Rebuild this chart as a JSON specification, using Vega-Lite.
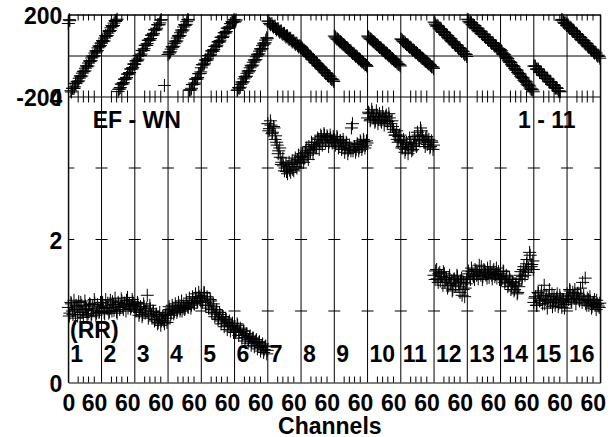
{
"$schema": "https://vega.github.io/schema/vega-lite/v6.json",
"width": 532, "height": 368,
"autosize": "none",
"padding": {"left": 68.3, "top": 14.5, "right": 13.7, "bottom": 54.5},
"background": "white",
"config": {"view": {"stroke": "black", "strokeWidth": 1}, "font": "Liberation Sans", "axisX": {"labelOverlap": false}},
"datasets": {
"vis": [
{"x":0,"p":156,"a":1.05},{"x":3,"p":170,"a":0.97},{"x":6,"p":-178,"a":1.10},{"x":9,"p":-160,"a":0.95},{"x":12,"p":-153,"a":1.02},{"x":15,"p":-135,"a":1.08},{"x":18,"p":-128,"a":0.93},{"x":21,"p":-111,"a":1.04},{"x":24,"p":-104,"a":1.12},{"x":27,"p":-86,"a":0.98},{"x":30,"p":-79,"a":1.00},{"x":33,"p":-62,"a":1.07},{"x":36,"p":-55,"a":0.94},{"x":39,"p":-37,"a":1.03},{"x":42,"p":-30,"a":1.09},{"x":45,"p":-12,"a":0.96},{"x":48,"p":-6,"a":1.01},{"x":51,"p":12,"a":1.11},{"x":54,"p":18,"a":0.97},{"x":57,"p":37,"a":1.04},{"x":60,"p":43,"a":0.99},{"x":63,"p":60,"a":1.06},
{"x":2,"p":175,"a":0.93},{"x":5,"p":-172,"a":1.12},{"x":8,"p":-160,"a":1.00},{"x":11,"p":-161,"a":1.15},{"x":14,"p":-137,"a":0.90},{"x":17,"p":-126,"a":1.06},{"x":20,"p":-124,"a":1.13},{"x":23,"p":-99,"a":0.95},{"x":26,"p":-100,"a":1.08},{"x":29,"p":-77,"a":0.91},{"x":32,"p":-75,"a":1.14},{"x":35,"p":-50,"a":1.02},{"x":38,"p":-51,"a":0.96},{"x":41,"p":-26,"a":1.10},{"x":44,"p":-25,"a":0.92},{"x":47,"p":-2,"a":1.07},{"x":50,"p":-1,"a":1.16},{"x":53,"p":23,"a":0.94},{"x":56,"p":24,"a":1.09},{"x":59,"p":47,"a":0.98},{"x":62,"p":48,"a":1.12},
{"x":64,"p":61,"a":1.00},{"x":67,"p":68,"a":1.08},{"x":70,"p":85,"a":0.96},{"x":73,"p":93,"a":1.05},{"x":76,"p":109,"a":1.11},{"x":79,"p":117,"a":0.99},{"x":82,"p":135,"a":1.04},{"x":85,"p":142,"a":1.13},{"x":88,"p":158,"a":1.01},{"x":91,"p":166,"a":1.07},{"x":94,"p":177,"a":0.97},{"x":97,"p":-165,"a":1.10},{"x":100,"p":-156,"a":1.05},{"x":103,"p":-139,"a":1.14},{"x":106,"p":-132,"a":1.02},{"x":109,"p":-115,"a":1.08},{"x":112,"p":-107,"a":1.15},{"x":115,"p":-90,"a":1.04},{"x":118,"p":-83,"a":1.10},{"x":121,"p":-66,"a":1.06},{"x":124,"p":-58,"a":1.13},{"x":127,"p":-41,"a":1.08},
{"x":66,"p":73,"a":1.12},{"x":69,"p":71,"a":0.98},{"x":72,"p":98,"a":1.16},{"x":75,"p":97,"a":1.03},{"x":78,"p":121,"a":0.97},{"x":81,"p":122,"a":1.15},{"x":84,"p":146,"a":1.00},{"x":87,"p":146,"a":1.09},{"x":90,"p":171,"a":1.18},{"x":93,"p":172,"a":0.99},{"x":96,"p":-176,"a":1.12},{"x":99,"p":-163,"a":1.02},{"x":102,"p":-140,"a":1.17},{"x":105,"p":-139,"a":1.06},{"x":108,"p":-116,"a":1.11},{"x":111,"p":-114,"a":1.00},{"x":114,"p":-91,"a":1.19},{"x":117,"p":-90,"a":1.09},{"x":120,"p":-66,"a":1.03},{"x":123,"p":-65,"a":1.16},{"x":126,"p":-42,"a":1.10},
{"x":128,"p":-43,"a":1.08},{"x":131,"p":-25,"a":1.02},{"x":134,"p":-18,"a":1.10},{"x":137,"p":0,"a":0.98},{"x":140,"p":7,"a":1.04},{"x":143,"p":25,"a":0.95},{"x":146,"p":33,"a":1.06},{"x":149,"p":50,"a":1.00},{"x":152,"p":58,"a":1.22},{"x":155,"p":75,"a":0.96},{"x":158,"p":83,"a":1.03},{"x":161,"p":100,"a":0.92},{"x":164,"p":108,"a":0.99},{"x":167,"p":126,"a":0.88},{"x":170,"p":133,"a":0.95},{"x":173,"p":150,"a":0.84},{"x":176,"p":159,"a":0.98},{"x":179,"p":175,"a":0.86},{"x":182,"p":null,"a":0.93},{"x":185,"p":-146,"a":0.82},{"x":188,"p":null,"a":0.96},{"x":191,"p":null,"a":0.90},
{"x":130,"p":-27,"a":1.00},{"x":133,"p":-26,"a":1.12},{"x":136,"p":0,"a":0.94},{"x":139,"p":-1,"a":1.06},{"x":142,"p":24,"a":0.92},{"x":145,"p":24,"a":1.10},{"x":148,"p":50,"a":0.97},{"x":151,"p":49,"a":1.04},{"x":154,"p":74,"a":0.90},{"x":157,"p":75,"a":1.08},{"x":160,"p":99,"a":0.94},{"x":163,"p":100,"a":1.00},{"x":166,"p":125,"a":0.86},{"x":169,"p":125,"a":0.96},{"x":172,"p":150,"a":0.82},{"x":175,"p":150,"a":0.92},{"x":178,"p":172,"a":0.80},{"x":181,"p":null,"a":0.90},{"x":184,"p":null,"a":0.86},{"x":187,"p":null,"a":0.94},{"x":190,"p":null,"a":0.84},
{"x":192,"p":5,"a":0.95},{"x":195,"p":12,"a":1.02},{"x":198,"p":31,"a":0.97},{"x":201,"p":40,"a":1.04},{"x":204,"p":58,"a":0.99},{"x":207,"p":66,"a":1.06},{"x":210,"p":85,"a":1.01},{"x":213,"p":93,"a":1.08},{"x":216,"p":111,"a":1.03},{"x":219,"p":119,"a":1.00},{"x":222,"p":139,"a":1.07},{"x":225,"p":146,"a":1.04},{"x":228,"p":165,"a":1.10},{"x":231,"p":173,"a":1.05},{"x":234,"p":-168,"a":1.12},{"x":237,"p":-160,"a":1.08},{"x":240,"p":-141,"a":1.15},{"x":243,"p":-134,"a":1.10},{"x":246,"p":-114,"a":1.18},{"x":249,"p":-107,"a":1.13},{"x":252,"p":-88,"a":1.20},{"x":255,"p":-80,"a":1.14},
{"x":194,"p":17,"a":1.06},{"x":197,"p":18,"a":0.94},{"x":200,"p":44,"a":1.08},{"x":203,"p":45,"a":0.96},{"x":206,"p":70,"a":1.10},{"x":209,"p":71,"a":0.98},{"x":212,"p":97,"a":1.12},{"x":215,"p":98,"a":1.00},{"x":218,"p":124,"a":1.14},{"x":221,"p":125,"a":1.04},{"x":224,"p":151,"a":1.02},{"x":227,"p":152,"a":1.15},{"x":230,"p":176,"a":1.06},{"x":233,"p":-169,"a":1.18},{"x":236,"p":-168,"a":1.04},{"x":239,"p":-142,"a":1.20},{"x":242,"p":-141,"a":1.10},{"x":245,"p":-116,"a":1.24},{"x":248,"p":-115,"a":1.12},{"x":251,"p":-89,"a":1.26},{"x":254,"p":-88,"a":1.18},
{"x":256,"p":-60,"a":1.22},{"x":259,"p":-44,"a":1.15},{"x":262,"p":-38,"a":1.25},{"x":265,"p":-22,"a":1.12},{"x":268,"p":-16,"a":1.18},{"x":271,"p":0,"a":1.08},{"x":274,"p":6,"a":1.14},{"x":277,"p":23,"a":1.02},{"x":280,"p":29,"a":1.06},{"x":283,"p":45,"a":0.96},{"x":286,"p":50,"a":1.00},{"x":289,"p":67,"a":0.90},{"x":292,"p":72,"a":0.95},{"x":295,"p":89,"a":0.86},{"x":298,"p":94,"a":0.92},{"x":301,"p":111,"a":0.83},{"x":304,"p":117,"a":0.88},{"x":307,"p":134,"a":0.80},{"x":310,"p":139,"a":0.86},{"x":313,"p":156,"a":0.78},{"x":316,"p":161,"a":0.83},{"x":319,"p":176,"a":0.76},
{"x":258,"p":-45,"a":1.12},{"x":261,"p":-46,"a":1.26},{"x":264,"p":-22,"a":1.08},{"x":267,"p":-23,"a":1.20},{"x":270,"p":0,"a":1.04},{"x":273,"p":-1,"a":1.16},{"x":276,"p":22,"a":0.98},{"x":279,"p":21,"a":1.10},{"x":282,"p":44,"a":0.92},{"x":285,"p":43,"a":1.02},{"x":288,"p":66,"a":0.88},{"x":291,"p":66,"a":0.98},{"x":294,"p":89,"a":0.82},{"x":297,"p":88,"a":0.92},{"x":300,"p":111,"a":0.78},{"x":303,"p":110,"a":0.90},{"x":306,"p":133,"a":0.74},{"x":309,"p":132,"a":0.84},{"x":312,"p":155,"a":0.72},{"x":315,"p":166,"a":0.80},{"x":318,"p":168,"a":0.70},
{"x":320,"p":163,"a":0.78},{"x":323,"p":174,"a":0.72},{"x":326,"p":-168,"a":0.80},{"x":329,"p":-160,"a":0.70},{"x":332,"p":-141,"a":0.74},{"x":335,"p":-134,"a":0.66},{"x":338,"p":-114,"a":0.72},{"x":341,"p":-106,"a":0.63},{"x":344,"p":-87,"a":0.68},{"x":347,"p":-80,"a":0.60},{"x":350,"p":-60,"a":0.65},{"x":353,"p":-52,"a":0.57},{"x":356,"p":-33,"a":0.62},{"x":359,"p":-26,"a":0.55},{"x":362,"p":-6,"a":0.60},{"x":365,"p":2,"a":0.52},{"x":368,"p":21,"a":0.57},{"x":371,"p":28,"a":0.49},{"x":374,"p":48,"a":0.54},{"x":377,"p":55,"a":0.46},{"x":380,"p":75,"a":0.51},{"x":383,"p":82,"a":0.45},
{"x":322,"p":168,"a":0.70},{"x":325,"p":-170,"a":0.82},{"x":328,"p":-156,"a":0.66},{"x":331,"p":-155,"a":0.76},{"x":334,"p":-129,"a":0.62},{"x":337,"p":-128,"a":0.72},{"x":340,"p":-102,"a":0.58},{"x":343,"p":-101,"a":0.68},{"x":346,"p":-75,"a":0.55},{"x":349,"p":-74,"a":0.64},{"x":352,"p":-48,"a":0.52},{"x":355,"p":-47,"a":0.62},{"x":358,"p":-21,"a":0.50},{"x":361,"p":-20,"a":0.58},{"x":364,"p":6,"a":0.47},{"x":367,"p":8,"a":0.56},{"x":370,"p":33,"a":0.44},{"x":373,"p":34,"a":0.52},{"x":376,"p":60,"a":0.42},{"x":379,"p":62,"a":0.50},{"x":382,"p":87,"a":0.40},
{"x":384,"p":168,"a":3.62},{"x":387,"p":157,"a":3.55},{"x":390,"p":155,"a":3.60},{"x":393,"p":144,"a":3.50},{"x":396,"p":143,"a":3.56},{"x":399,"p":132,"a":3.45},{"x":402,"p":131,"a":3.32},{"x":405,"p":120,"a":3.24},{"x":408,"p":119,"a":3.15},{"x":411,"p":109,"a":3.08},{"x":414,"p":108,"a":3.03},{"x":417,"p":97,"a":3.00},{"x":420,"p":96,"a":2.95},{"x":423,"p":85,"a":3.02},{"x":426,"p":84,"a":2.97},{"x":429,"p":73,"a":3.05},{"x":432,"p":72,"a":2.98},{"x":435,"p":61,"a":3.08},{"x":438,"p":60,"a":3.02},{"x":441,"p":49,"a":3.12},{"x":444,"p":48,"a":3.06},{"x":447,"p":37,"a":3.15},
{"x":386,"p":167,"a":3.52},{"x":389,"p":150,"a":3.66},{"x":392,"p":155,"a":3.48},{"x":395,"p":138,"a":3.58},{"x":398,"p":143,"a":3.40},{"x":401,"p":125,"a":3.36},{"x":404,"p":131,"a":3.20},{"x":407,"p":113,"a":3.28},{"x":410,"p":120,"a":3.05},{"x":413,"p":102,"a":3.14},{"x":416,"p":108,"a":2.96},{"x":419,"p":90,"a":3.06},{"x":422,"p":96,"a":2.92},{"x":425,"p":78,"a":3.08},{"x":428,"p":84,"a":2.94},{"x":431,"p":66,"a":3.10},{"x":434,"p":72,"a":2.96},{"x":437,"p":54,"a":3.14},{"x":440,"p":60,"a":3.00},{"x":443,"p":42,"a":3.18},{"x":446,"p":48,"a":3.08},
{"x":448,"p":43,"a":3.10},{"x":451,"p":29,"a":3.20},{"x":454,"p":26,"a":3.14},{"x":457,"p":13,"a":3.25},{"x":460,"p":11,"a":3.18},{"x":463,"p":-2,"a":3.30},{"x":466,"p":-5,"a":3.22},{"x":469,"p":-18,"a":3.33},{"x":472,"p":-21,"a":3.26},{"x":475,"p":-34,"a":3.36},{"x":478,"p":-37,"a":3.30},{"x":481,"p":-49,"a":3.40},{"x":484,"p":-52,"a":3.34},{"x":487,"p":-65,"a":3.44},{"x":490,"p":-68,"a":3.38},{"x":493,"p":-81,"a":3.46},{"x":496,"p":-84,"a":3.40},{"x":499,"p":-97,"a":3.43},{"x":502,"p":-99,"a":3.36},{"x":505,"p":-112,"a":3.42},{"x":508,"p":-115,"a":3.35},{"x":511,"p":-127,"a":3.40},
{"x":450,"p":37,"a":3.16},{"x":453,"p":25,"a":3.08},{"x":456,"p":21,"a":3.22},{"x":459,"p":9,"a":3.28},{"x":462,"p":5,"a":3.12},{"x":465,"p":-7,"a":3.24},{"x":468,"p":-10,"a":3.36},{"x":471,"p":-22,"a":3.20},{"x":474,"p":-26,"a":3.32},{"x":477,"p":-38,"a":3.28},{"x":480,"p":-42,"a":3.42},{"x":483,"p":-54,"a":3.26},{"x":486,"p":-58,"a":3.46},{"x":489,"p":-69,"a":3.32},{"x":492,"p":-73,"a":3.48},{"x":495,"p":-85,"a":3.36},{"x":498,"p":-89,"a":3.45},{"x":501,"p":-101,"a":3.30},{"x":504,"p":-105,"a":3.46},{"x":507,"p":-117,"a":3.38},{"x":510,"p":-120,"a":3.44},
{"x":512,"p":95,"a":3.40},{"x":515,"p":86,"a":3.35},{"x":518,"p":81,"a":3.42},{"x":521,"p":72,"a":3.30},{"x":524,"p":67,"a":3.38},{"x":527,"p":58,"a":3.32},{"x":530,"p":53,"a":3.36},{"x":533,"p":44,"a":3.28},{"x":536,"p":39,"a":3.34},{"x":539,"p":30,"a":3.25},{"x":542,"p":25,"a":3.28},{"x":545,"p":16,"a":3.56},{"x":548,"p":11,"a":3.24},{"x":551,"p":3,"a":3.30},{"x":554,"p":-2,"a":3.26},{"x":557,"p":-11,"a":3.33},{"x":560,"p":-16,"a":3.28},{"x":563,"p":-25,"a":3.36},{"x":566,"p":-30,"a":3.30},{"x":569,"p":-39,"a":3.37},{"x":572,"p":-44,"a":3.32},{"x":575,"p":-53,"a":3.35},
{"x":514,"p":91,"a":3.32},{"x":517,"p":80,"a":3.44},{"x":520,"p":77,"a":3.28},{"x":523,"p":66,"a":3.38},{"x":526,"p":64,"a":3.26},{"x":529,"p":53,"a":3.40},{"x":532,"p":50,"a":3.22},{"x":535,"p":39,"a":3.36},{"x":538,"p":36,"a":3.20},{"x":541,"p":25,"a":3.32},{"x":544,"p":22,"a":3.24},{"x":547,"p":11,"a":3.62},{"x":550,"p":8,"a":3.30},{"x":553,"p":-3,"a":3.22},{"x":556,"p":-6,"a":3.34},{"x":559,"p":-17,"a":3.24},{"x":562,"p":-20,"a":3.38},{"x":565,"p":-31,"a":3.26},{"x":568,"p":-34,"a":3.40},{"x":571,"p":-45,"a":3.28},{"x":574,"p":-48,"a":3.38},
{"x":576,"p":95,"a":3.70},{"x":579,"p":86,"a":3.76},{"x":582,"p":81,"a":3.68},{"x":585,"p":72,"a":3.78},{"x":588,"p":68,"a":3.72},{"x":591,"p":59,"a":3.66},{"x":594,"p":54,"a":3.74},{"x":597,"p":45,"a":3.68},{"x":600,"p":40,"a":3.71},{"x":603,"p":31,"a":3.64},{"x":606,"p":26,"a":3.72},{"x":609,"p":17,"a":3.67},{"x":612,"p":13,"a":3.74},{"x":615,"p":4,"a":3.65},{"x":618,"p":-1,"a":3.70},{"x":621,"p":-10,"a":3.62},{"x":624,"p":-15,"a":3.58},{"x":627,"p":-24,"a":3.50},{"x":630,"p":-29,"a":3.46},{"x":633,"p":-38,"a":3.40},{"x":636,"p":-42,"a":3.44},{"x":639,"p":-51,"a":3.38},
{"x":578,"p":91,"a":3.78},{"x":581,"p":81,"a":3.66},{"x":584,"p":78,"a":3.82},{"x":587,"p":67,"a":3.70},{"x":590,"p":64,"a":3.64},{"x":593,"p":53,"a":3.80},{"x":596,"p":50,"a":3.62},{"x":599,"p":39,"a":3.76},{"x":602,"p":36,"a":3.66},{"x":605,"p":26,"a":3.78},{"x":608,"p":23,"a":3.60},{"x":611,"p":12,"a":3.72},{"x":614,"p":9,"a":3.62},{"x":617,"p":-2,"a":3.76},{"x":620,"p":-5,"a":3.58},{"x":623,"p":-16,"a":3.66},{"x":626,"p":-19,"a":3.54},{"x":629,"p":-29,"a":3.46},{"x":632,"p":-32,"a":3.52},{"x":635,"p":-43,"a":3.36},{"x":638,"p":-46,"a":3.46},
{"x":640,"p":81,"a":3.38},{"x":643,"p":72,"a":3.30},{"x":646,"p":68,"a":3.35},{"x":649,"p":59,"a":3.26},{"x":652,"p":54,"a":3.33},{"x":655,"p":45,"a":3.28},{"x":658,"p":41,"a":3.36},{"x":661,"p":32,"a":3.24},{"x":664,"p":27,"a":3.32},{"x":667,"p":18,"a":3.40},{"x":670,"p":14,"a":3.30},{"x":673,"p":5,"a":3.46},{"x":676,"p":0,"a":3.38},{"x":679,"p":-9,"a":3.52},{"x":682,"p":-13,"a":3.44},{"x":685,"p":-22,"a":3.36},{"x":688,"p":-27,"a":3.42},{"x":691,"p":-36,"a":3.33},{"x":694,"p":-40,"a":3.40},{"x":697,"p":-49,"a":3.30},{"x":700,"p":-54,"a":3.36},{"x":703,"p":-63,"a":3.32},
{"x":642,"p":78,"a":3.28},{"x":645,"p":67,"a":3.40},{"x":648,"p":64,"a":3.22},{"x":651,"p":53,"a":3.36},{"x":654,"p":51,"a":3.20},{"x":657,"p":40,"a":3.42},{"x":660,"p":37,"a":3.30},{"x":663,"p":26,"a":3.26},{"x":666,"p":24,"a":3.44},{"x":669,"p":13,"a":3.34},{"x":672,"p":10,"a":3.50},{"x":675,"p":-1,"a":3.40},{"x":678,"p":-3,"a":3.56},{"x":681,"p":-14,"a":3.46},{"x":684,"p":-17,"a":3.38},{"x":687,"p":-28,"a":3.30},{"x":690,"p":-30,"a":3.44},{"x":693,"p":-41,"a":3.36},{"x":696,"p":-44,"a":3.28},{"x":699,"p":-55,"a":3.38},{"x":702,"p":-57,"a":3.26},
{"x":704,"p":163,"a":1.50},{"x":707,"p":150,"a":1.56},{"x":710,"p":147,"a":1.45},{"x":713,"p":134,"a":1.52},{"x":716,"p":131,"a":1.42},{"x":719,"p":118,"a":1.48},{"x":722,"p":116,"a":1.55},{"x":725,"p":103,"a":1.40},{"x":728,"p":100,"a":1.46},{"x":731,"p":88,"a":1.35},{"x":734,"p":85,"a":1.50},{"x":737,"p":72,"a":1.42},{"x":740,"p":69,"a":1.30},{"x":743,"p":57,"a":1.45},{"x":746,"p":54,"a":1.38},{"x":749,"p":41,"a":1.48},{"x":752,"p":39,"a":1.34},{"x":755,"p":26,"a":1.42},{"x":758,"p":23,"a":1.22},{"x":761,"p":11,"a":1.40},{"x":764,"p":8,"a":1.32},{"x":767,"p":-5,"a":1.44},
{"x":706,"p":159,"a":1.44},{"x":709,"p":143,"a":1.58},{"x":712,"p":143,"a":1.40},{"x":715,"p":128,"a":1.54},{"x":718,"p":128,"a":1.48},{"x":721,"p":112,"a":1.36},{"x":724,"p":113,"a":1.52},{"x":727,"p":97,"a":1.44},{"x":730,"p":97,"a":1.32},{"x":733,"p":81,"a":1.47},{"x":736,"p":82,"a":1.38},{"x":739,"p":66,"a":1.28},{"x":742,"p":66,"a":1.44},{"x":745,"p":51,"a":1.36},{"x":748,"p":51,"a":1.50},{"x":751,"p":35,"a":1.40},{"x":754,"p":35,"a":1.26},{"x":757,"p":20,"a":1.46},{"x":760,"p":20,"a":1.30},{"x":763,"p":4,"a":1.20},{"x":766,"p":5,"a":1.38},
{"x":768,"p":177,"a":1.46},{"x":771,"p":165,"a":1.52},{"x":774,"p":163,"a":1.44},{"x":777,"p":151,"a":1.55},{"x":780,"p":148,"a":1.48},{"x":783,"p":136,"a":1.58},{"x":786,"p":134,"a":1.50},{"x":789,"p":122,"a":1.45},{"x":792,"p":120,"a":1.54},{"x":795,"p":108,"a":1.62},{"x":798,"p":106,"a":1.48},{"x":801,"p":93,"a":1.56},{"x":804,"p":91,"a":1.50},{"x":807,"p":79,"a":1.60},{"x":810,"p":77,"a":1.47},{"x":813,"p":65,"a":1.53},{"x":816,"p":63,"a":1.45},{"x":819,"p":51,"a":1.58},{"x":822,"p":48,"a":1.51},{"x":825,"p":36,"a":1.46},{"x":828,"p":34,"a":1.55},{"x":831,"p":22,"a":1.49},
{"x":770,"p":174,"a":1.56},{"x":773,"p":159,"a":1.48},{"x":776,"p":160,"a":1.60},{"x":779,"p":145,"a":1.50},{"x":782,"p":146,"a":1.44},{"x":785,"p":131,"a":1.56},{"x":788,"p":131,"a":1.52},{"x":791,"p":116,"a":1.64},{"x":794,"p":117,"a":1.50},{"x":797,"p":102,"a":1.44},{"x":800,"p":103,"a":1.58},{"x":803,"p":88,"a":1.52},{"x":806,"p":89,"a":1.46},{"x":809,"p":73,"a":1.54},{"x":812,"p":74,"a":1.62},{"x":815,"p":59,"a":1.50},{"x":818,"p":60,"a":1.56},{"x":821,"p":45,"a":1.48},{"x":824,"p":46,"a":1.60},{"x":827,"p":31,"a":1.52},{"x":830,"p":31,"a":1.44},
{"x":832,"p":28,"a":1.52},{"x":835,"p":12,"a":1.46},{"x":838,"p":8,"a":1.55},{"x":841,"p":-7,"a":1.42},{"x":844,"p":-11,"a":1.48},{"x":847,"p":-26,"a":1.38},{"x":850,"p":-30,"a":1.44},{"x":853,"p":-45,"a":1.35},{"x":856,"p":-49,"a":1.41},{"x":859,"p":-64,"a":1.30},{"x":862,"p":-68,"a":1.38},{"x":865,"p":-83,"a":1.26},{"x":868,"p":-87,"a":1.45},{"x":871,"p":-102,"a":1.55},{"x":874,"p":-106,"a":1.48},{"x":877,"p":-121,"a":1.62},{"x":880,"p":-125,"a":1.56},{"x":883,"p":-140,"a":1.72},{"x":886,"p":-144,"a":1.60},{"x":889,"p":-159,"a":1.78},{"x":892,"p":-163,"a":1.65},{"x":895,"p":-177,"a":1.58},
{"x":834,"p":23,"a":1.44},{"x":837,"p":5,"a":1.56},{"x":840,"p":4,"a":1.40},{"x":843,"p":-14,"a":1.50},{"x":846,"p":-15,"a":1.34},{"x":849,"p":-33,"a":1.46},{"x":852,"p":-34,"a":1.30},{"x":855,"p":-52,"a":1.40},{"x":858,"p":-53,"a":1.28},{"x":861,"p":-71,"a":1.36},{"x":864,"p":-72,"a":1.24},{"x":867,"p":-90,"a":1.34},{"x":870,"p":-91,"a":1.50},{"x":873,"p":-109,"a":1.44},{"x":876,"p":-110,"a":1.58},{"x":879,"p":-128,"a":1.50},{"x":882,"p":-129,"a":1.66},{"x":885,"p":-147,"a":1.54},{"x":888,"p":-149,"a":1.82},{"x":891,"p":-166,"a":1.62},{"x":894,"p":-168,"a":1.70},
{"x":896,"p":-52,"a":1.12},{"x":899,"p":-54,"a":1.20},{"x":902,"p":-67,"a":1.08},{"x":905,"p":-69,"a":1.25},{"x":908,"p":-83,"a":1.15},{"x":911,"p":-84,"a":1.28},{"x":914,"p":-98,"a":1.18},{"x":917,"p":-100,"a":1.10},{"x":920,"p":-113,"a":1.22},{"x":923,"p":-115,"a":1.14},{"x":926,"p":-129,"a":1.30},{"x":929,"p":-130,"a":1.16},{"x":932,"p":-144,"a":1.06},{"x":935,"p":-145,"a":1.20},{"x":938,"p":-159,"a":1.12},{"x":941,"p":-161,"a":1.24},{"x":944,"p":-174,"a":1.10},{"x":947,"p":-177,"a":1.18},{"x":950,"p":176,"a":1.05},{"x":953,"p":163,"a":1.15},{"x":956,"p":161,"a":1.09},{"x":959,"p":147,"a":1.17},
{"x":898,"p":-50,"a":1.18},{"x":901,"p":-66,"a":1.08},{"x":904,"p":-65,"a":1.26},{"x":907,"p":-81,"a":1.14},{"x":910,"p":-81,"a":1.22},{"x":913,"p":-96,"a":1.10},{"x":916,"p":-96,"a":1.36},{"x":919,"p":-112,"a":1.16},{"x":922,"p":-111,"a":1.04},{"x":925,"p":-127,"a":1.20},{"x":928,"p":-127,"a":1.12},{"x":931,"p":-142,"a":1.24},{"x":934,"p":-142,"a":1.14},{"x":937,"p":-158,"a":1.08},{"x":940,"p":-157,"a":1.18},{"x":943,"p":-173,"a":1.06},{"x":946,"p":-174,"a":1.22},{"x":949,"p":172,"a":1.12},{"x":952,"p":172,"a":1.16},{"x":955,"p":157,"a":1.04},{"x":958,"p":157,"a":1.13},
{"x":960,"p":153,"a":1.24},{"x":963,"p":139,"a":1.16},{"x":966,"p":138,"a":1.28},{"x":969,"p":124,"a":1.12},{"x":972,"p":123,"a":1.22},{"x":975,"p":109,"a":1.30},{"x":978,"p":107,"a":1.18},{"x":981,"p":94,"a":1.25},{"x":984,"p":92,"a":1.14},{"x":987,"p":78,"a":1.20},{"x":990,"p":77,"a":1.40},{"x":993,"p":63,"a":1.15},{"x":996,"p":62,"a":1.10},{"x":999,"p":48,"a":1.18},{"x":1002,"p":46,"a":1.08},{"x":1005,"p":33,"a":1.14},{"x":1008,"p":31,"a":1.06},{"x":1011,"p":17,"a":1.12},{"x":1014,"p":16,"a":1.09},{"x":1017,"p":2,"a":1.15},{"x":1020,"p":1,"a":1.07},{"x":1023,"p":-13,"a":1.11},
{"x":962,"p":149,"a":1.20},{"x":965,"p":133,"a":1.30},{"x":968,"p":134,"a":1.14},{"x":971,"p":118,"a":1.26},{"x":974,"p":118,"a":1.18},{"x":977,"p":103,"a":1.10},{"x":980,"p":103,"a":1.24},{"x":983,"p":88,"a":1.16},{"x":986,"p":88,"a":1.32},{"x":989,"p":72,"a":1.12},{"x":992,"p":73,"a":1.22},{"x":995,"p":57,"a":1.46},{"x":998,"p":58,"a":1.08},{"x":1001,"p":42,"a":1.16},{"x":1004,"p":42,"a":1.20},{"x":1007,"p":27,"a":1.04},{"x":1010,"p":27,"a":1.12},{"x":1013,"p":11,"a":1.16},{"x":1016,"p":12,"a":1.02},{"x":1019,"p":-4,"a":1.10},{"x":1022,"p":-4,"a":1.05}
],
"ifs": [
{"n":"1","x":0},{"n":"2","x":64},{"n":"3","x":128},{"n":"4","x":192},{"n":"5","x":256},{"n":"6","x":320},{"n":"7","x":384},{"n":"8","x":448},
{"n":"9","x":512},{"n":"10","x":576},{"n":"11","x":640},{"n":"12","x":704},{"n":"13","x":768},{"n":"14","x":832},{"n":"15","x":896},{"n":"16","x":960}
],
"ifb": [
{"x":0},{"x":64},{"x":128},{"x":192},{"x":256},{"x":320},{"x":384},{"x":448},{"x":512},{"x":576},{"x":640},{"x":704},{"x":768},{"x":832},{"x":896},{"x":960},{"x":1024}
],
"mt": [
{"x":19},{"x":29},{"x":39},{"x":50},{"x":83},{"x":93},{"x":103},{"x":114},{"x":147},{"x":157},{"x":167},{"x":178},{"x":211},{"x":221},{"x":231},{"x":242},
{"x":275},{"x":285},{"x":295},{"x":306},{"x":339},{"x":349},{"x":359},{"x":370},{"x":403},{"x":413},{"x":423},{"x":434},{"x":467},{"x":477},{"x":487},{"x":498},
{"x":531},{"x":541},{"x":551},{"x":562},{"x":595},{"x":605},{"x":615},{"x":626},{"x":659},{"x":669},{"x":679},{"x":690},{"x":723},{"x":733},{"x":743},{"x":754},
{"x":787},{"x":797},{"x":807},{"x":818},{"x":851},{"x":861},{"x":871},{"x":882},{"x":915},{"x":925},{"x":935},{"x":946},{"x":979},{"x":989},{"x":999},{"x":1010}
]
},
"layer": [
{
"layer": [
{
"data": {"name": "vis"},
"mark": {"type": "point", "shape": "M-1,0L1,0M0,-1L0,1", "filled": false, "stroke": "black", "strokeWidth": 1, "size": 169, "opacity": 1},
"encoding": {
"x": {"field": "x", "type": "quantitative", "scale": {"domain": [0, 1024], "nice": false, "zero": false},
"axis": {
"values": [0,60,124,188,252,316,380,444,508,572,636,700,764,828,892,956,1020],
"tickCount": 100,
"title": "Channels", "titleFont": "Liberation Sans", "titleFontSize": 23, "titleFontWeight": "bold", "titleColor": "black",
"titleX": 261, "titleY": 50.5, "titleBaseline": "alphabetic", "titleAlign": "center",
"labelExpr": "datum.value == 0 ? '0' : '60'",
"labelFont": "Liberation Sans", "labelFontSize": 23, "labelFontWeight": "bold", "labelColor": "black",
"labelBaseline": "alphabetic", "labelPadding": 28, "labelFlush": false, "labelOverlap": false, "labelBound": false,
"labelOffset": {"condition": {"test": "datum.value == 0", "value": 0}, "value": -5.5},
"ticks": false, "domain": false, "grid": false
}},
"y": {"field": "p", "type": "quantitative", "scale": {"domain": [-200, 200], "range": [82, 0], "nice": false, "zero": false},
"axis": {"values": [-200, 0, 200], "labelExpr": "datum.value == 0 ? '' : '' + datum.value", "title": null,
"labelFont": "Liberation Sans", "labelFontSize": 23, "labelFontWeight": "bold", "labelColor": "black", "labelPadding": 6.5, "labelOffset": 2,
"ticks": false, "domain": false, "grid": true, "gridColor": "black", "gridOpacity": 1, "gridWidth": 1}}
}
},
{
"data": {"name": "mt"},
"mark": {"type": "tick", "orient": "vertical", "size": 12, "thickness": 1, "color": "black", "opacity": 1, "clip": true},
"encoding": {"x": {"field": "x", "type": "quantitative"}, "y": {"datum": 200}}
}
]
},
{
"layer": [
{
"data": {"name": "ifb"},
"mark": {"type": "rule", "color": "black", "strokeWidth": 1},
"encoding": {"x": {"field": "x", "type": "quantitative"}}
},
{
"data": {"name": "ifb"},
"mark": {"type": "tick", "orient": "horizontal", "size": 12, "thickness": 1, "color": "black", "opacity": 1, "clip": true},
"encoding": {"x": {"field": "x", "type": "quantitative"}, "y": {"datum": 1}}
},
{
"data": {"name": "ifb"},
"mark": {"type": "tick", "orient": "horizontal", "size": 12, "thickness": 1, "color": "black", "opacity": 1, "clip": true},
"encoding": {"x": {"field": "x", "type": "quantitative"}, "y": {"datum": 2}}
},
{
"data": {"name": "ifb"},
"mark": {"type": "tick", "orient": "horizontal", "size": 12, "thickness": 1, "color": "black", "opacity": 1, "clip": true},
"encoding": {"x": {"field": "x", "type": "quantitative"}, "y": {"datum": 3}}
},
{
"data": {"name": "mt"},
"mark": {"type": "tick", "orient": "vertical", "size": 12, "thickness": 1, "color": "black", "opacity": 1, "clip": true},
"encoding": {"x": {"field": "x", "type": "quantitative"}, "y": {"datum": 0}}
},
{
"data": {"name": "mt"},
"mark": {"type": "tick", "orient": "vertical", "size": 12, "thickness": 1, "color": "black", "opacity": 1, "clip": true},
"encoding": {"x": {"field": "x", "type": "quantitative"}, "y": {"datum": 4}}
},
{
"data": {"name": "vis"},
"mark": {"type": "point", "shape": "M-1,0L1,0M0,-1L0,1", "filled": false, "stroke": "black", "strokeWidth": 1, "size": 169, "opacity": 1},
"encoding": {
"x": {"field": "x", "type": "quantitative"},
"y": {"field": "a", "type": "quantitative", "scale": {"domain": [0, 4], "range": [368, 82], "nice": false},
"axis": {"orient": "left", "values": [0, 2, 4], "labelExpr": "'' + datum.value", "title": null,
"labelFont": "Liberation Sans", "labelFontSize": 23, "labelFontWeight": "bold", "labelColor": "black", "labelPadding": 6.5, "labelOffset": 2,
"ticks": false, "domain": false, "grid": false}}
}
},
{
"data": {"name": "ifs"},
"mark": {"type": "text", "align": "left", "baseline": "alphabetic", "dx": 2, "font": "Liberation Sans", "fontSize": 23, "fontWeight": "bold", "color": "black"},
"encoding": {"x": {"field": "x", "type": "quantitative"}, "y": {"datum": 0.29}, "text": {"field": "n"}}
},
{
"data": {"values": [{"t": "EF - WN"}]},
"mark": {"type": "text", "align": "left", "baseline": "alphabetic", "font": "Liberation Sans", "fontSize": 23, "fontWeight": "bold", "color": "black"},
"encoding": {"x": {"datum": 47}, "y": {"datum": 3.555}, "text": {"field": "t"}}
},
{
"data": {"values": [{"t": "1 - 11"}]},
"mark": {"type": "text", "align": "left", "baseline": "alphabetic", "font": "Liberation Sans", "fontSize": 23, "fontWeight": "bold", "color": "black"},
"encoding": {"x": {"datum": 865.6}, "y": {"datum": 3.555}, "text": {"field": "t"}}
},
{
"data": {"values": [{"t": "(RR)"}]},
"mark": {"type": "text", "align": "left", "baseline": "alphabetic", "font": "Liberation Sans", "fontSize": 23, "fontWeight": "bold", "color": "black"},
"encoding": {"x": {"datum": 3.3}, "y": {"datum": 0.618}, "text": {"field": "t"}}
}
]
}
],
"resolve": {"scale": {"y": "independent"}, "axis": {"y": "independent"}}
}
